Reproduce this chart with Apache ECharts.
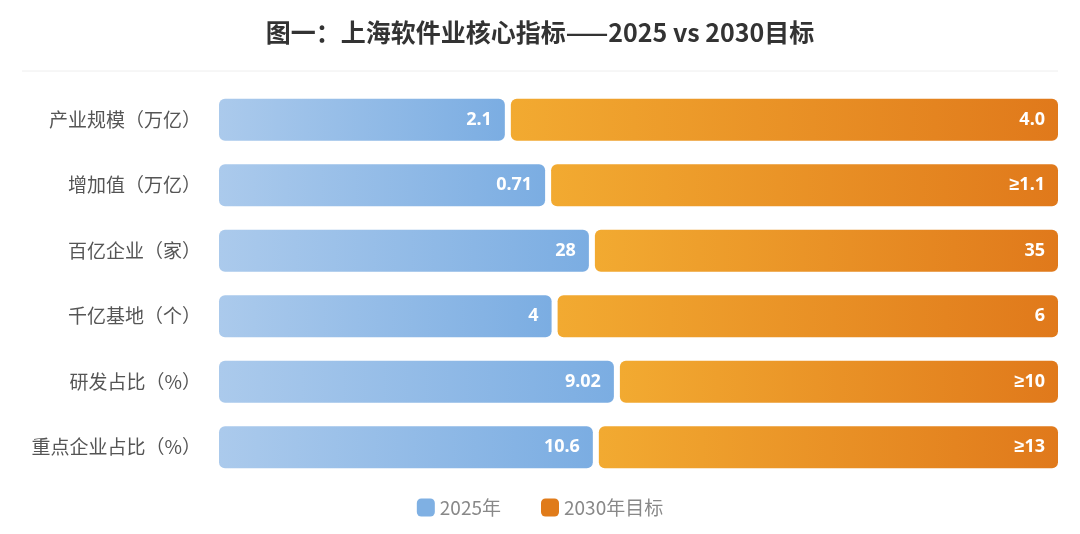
<!DOCTYPE html>
<html>
<head>
<meta charset="utf-8">
<script src="https://cdn.jsdelivr.net/npm/echarts@6/dist/echarts.min.js"></script>
<style>
  html, body { margin: 0; padding: 0; background: #fff; }
  #chart { width: 1080px; height: 534px; }
</style>
</head>
<body>
<div id="chart"></div>
<script>
const categories = ['产业规模（万亿）', '增加值（万亿）', '百亿企业（家）', '千亿基地（个）', '研发占比（%）', '重点企业占比（%）'];
const values2025 = [2.1, 0.71, 28, 4, 9.02, 10.6];
const values2030 = [4.0, 1.1, 35, 6, 10, 13];
const labels2025 = ['2.1', '0.71', '28', '4', '9.02', '10.6'];
const labels2030 = ['4.0', '≥1.1', '35', '6', '≥10', '≥13'];

const chart = echarts.init(document.getElementById('chart'));

// 每行按两年数值之和归一化为 100%
const shares = values2025.map((v, i) => v / (v + values2030[i]) * 100);
const data2025 = shares.map((s, i) => [0, s, i]);
const data2030 = shares.map((s, i) => [s, 100, i]);

const makeRender = (labels, c0, c1, side) => (params, api) => {
  const idx = api.value(2);
  const p0 = api.coord([api.value(0), idx]);
  const p1 = api.coord([api.value(1), idx]);
  const h = api.size([0, 1])[1] * 0.64;
  const gap = 3;
  const x = side === 'left' ? p0[0] : p0[0] + gap;
  const w = (side === 'left' ? p1[0] - gap : p1[0]) - x;
  return {
    type: 'group',
    children: [{
      type: 'rect',
      shape: { x: x, y: p0[1] - h / 2, width: w, height: h, r: 6 },
      style: { fill: new echarts.graphic.LinearGradient(0, 0, 1, 0, [{ offset: 0, color: c0 }, { offset: 1, color: c1 }]) }
    }, {
      type: 'text',
      style: {
        x: x + w - 13, y: p0[1], text: labels[idx],
        align: 'right', verticalAlign: 'middle',
        fill: '#fff', font: 'bold 18px "Noto Sans", "Liberation Sans", "DejaVu Sans", sans-serif'
      }
    }]
  };
};

chart.setOption({
  title: {
    text: '图一：上海软件业核心指标——2025 vs 2030目标',
    left: 'center', top: 15,
    textStyle: { fontSize: 25, fontWeight: 'bold', color: '#333', fontFamily: '"Noto Sans CJK SC", sans-serif' }
  },
  graphic: [{
    type: 'line', shape: { x1: 22, y1: 71, x2: 1058, y2: 71 },
    style: { stroke: '#eeeeee', lineWidth: 1 }
  }],
  legend: {
    bottom: 12, left: 'center', itemWidth: 18, itemHeight: 18, itemGap: 40, icon: 'roundRect',
    textStyle: { fontSize: 19, color: '#888', fontFamily: '"Noto Sans CJK SC", sans-serif' },
    data: ['2025年', '2030年目标']
  },
  grid: { left: 219, right: 22, top: 87, bottom: 54 },
  xAxis: { type: 'value', min: 0, max: 100, show: false },
  yAxis: {
    type: 'category', data: categories, inverse: true,
    axisLine: { show: false }, axisTick: { show: false },
    axisLabel: { margin: 18, fontSize: 19, color: '#555', fontFamily: '"Noto Sans CJK SC", sans-serif' }
  },
  series: [{
    name: '2025年', type: 'custom',
    itemStyle: { color: '#7fb0e3' },
    encode: { x: [0, 1], y: 2 },
    renderItem: makeRender(labels2025, '#abcaec', '#7badE2', 'left'),
    data: data2025
  }, {
    name: '2030年目标', type: 'custom',
    itemStyle: { color: '#e07b1a' },
    encode: { x: [0, 1], y: 2 },
    renderItem: makeRender(labels2030, '#f2aa31', '#e0791b', 'right'),
    data: data2030
  }]
});
</script>
</body>
</html>
